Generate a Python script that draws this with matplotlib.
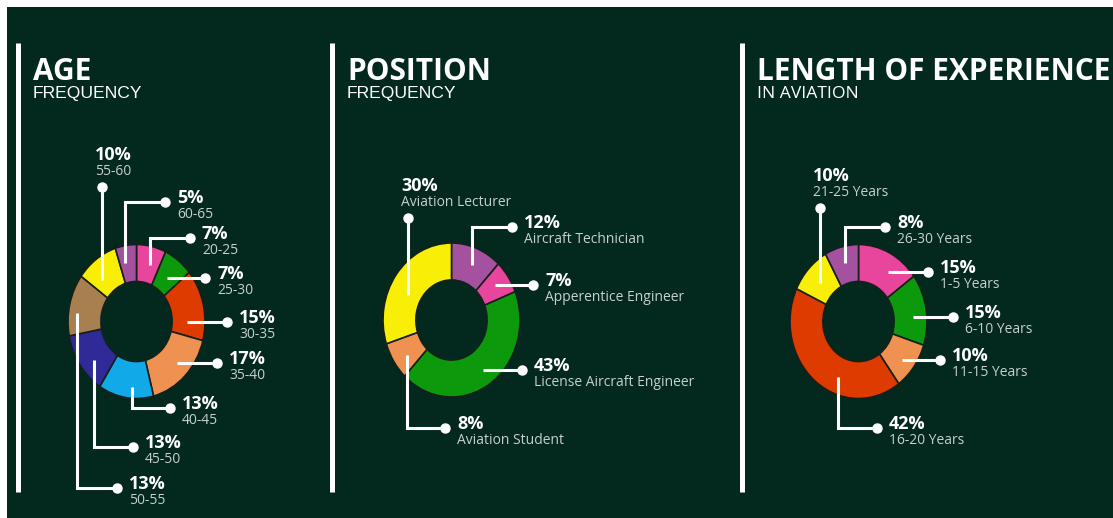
import matplotlib
matplotlib.use("Agg")
import matplotlib.pyplot as plt
from matplotlib.patches import Rectangle

W, H = 1113, 518
BG = "#03291f"

# ---- data ----
age_labels = ["20-25", "25-30", "30-35", "35-40", "40-45", "45-50", "50-55", "55-60", "60-65"]
age_values = [7, 7, 15, 17, 13, 13, 13, 10, 5]
age_colors = ["#e8459c", "#0c990c", "#de3b00", "#ef9151", "#12a9e9", "#302a98", "#a8804f", "#f8ee06", "#a452a0"]

pos_labels = ["Aircraft Technician", "Apperentice Engineer", "License Aircraft Engineer",
              "Aviation Student", "Aviation Lecturer"]
pos_values = [12, 7, 43, 8, 30]
pos_colors = ["#a452a0", "#e8459c", "#0c990c", "#ef9151", "#f8ee06"]

exp_labels = ["1-5 Years", "6-10 Years", "11-15 Years", "16-20 Years", "21-25 Years", "26-30 Years"]
exp_values = [15, 15, 10, 42, 10, 8]
exp_colors = ["#e8459c", "#0c990c", "#ef9151", "#de3b00", "#f8ee06", "#a452a0"]

# ---- layout (pixel positions of leader start and dot) ----
age_leaders = [(150, 265, 190, 238), (167, 278, 205, 278), (187, 322, 227, 322),
               (177, 363, 217, 363), (132, 387, 170, 408), (94, 360, 133, 447),
               (77, 313, 117, 488), (102, 280, 102, 187), (125, 263, 165, 202)]
pos_leaders = [(472, 265, 512, 227), (495, 285, 533, 285), (483, 370, 522, 370),
               (407, 355, 445, 428), (408, 295, 408, 218)]
exp_leaders = [(888, 272, 928, 272), (913, 317, 953, 317), (902, 360, 940, 360),
               (838, 377, 877, 428), (820, 283, 820, 208), (845, 263, 885, 227)]

fig = plt.figure(figsize=(W / 100, H / 100), dpi=100)
fig.patch.set_facecolor("white")
fig.add_artist(Rectangle((7 / W, 0), 1 - 7 / W, 1 - 7 / H, transform=fig.transFigure,
                         facecolor=BG, edgecolor="none", zorder=-1))


def donut(cx, cy, values, colors):
    rx, ry = 68.5, 77
    ax = fig.add_axes([(cx - rx) / W, (H - cy - ry) / H, 2 * rx / W, 2 * ry / H], zorder=1)
    ax.pie(values, colors=colors, startangle=90, counterclock=False, radius=1,
           wedgeprops=dict(width=0.48, edgecolor="#14201b", linewidth=1.2))
    ax.set_aspect("auto")
    ax.set_xlim(-1, 1)
    ax.set_ylim(-1, 1)
    ax.axis("off")


donut(136.5, 321.5, age_values, age_colors)
donut(451.5, 320, pos_values, pos_colors)
donut(858.5, 321.5, exp_values, exp_colors)

ov = fig.add_axes([0, 0, 1, 1], zorder=5)
ov.set_xlim(0, W)
ov.set_ylim(H, 0)
ov.axis("off")

# panel separators
for x in [18, 332, 742]:
    ov.plot([x, x], [43, 492], color="white", lw=3.6, solid_capstyle="butt")

# titles
titles = [(33, "AGE", "FREQUENCY", "Liberation Sans"),
          (347, "POSITION", "FREQUENCY", "Liberation Sans"),
          (757, "LENGTH OF EXPERIENCE", "IN AVIATION", "Open Sans")]
for x, t, s, fam in titles:
    ov.text(x, 80, t, color="white", fontsize=21.5, fontweight="bold",
            family="Open Sans", va="baseline")
    ov.text(x, 98, s, color="white", fontsize=12.6, family=fam, va="baseline")


def leaders(values, labels, lay):
    for v, lab, (x0, y0, x1, y1) in zip(values, labels, lay):
        ov.plot([x0, x0, x1], [y0, y1, y1], color="white", lw=2.2,
                solid_joinstyle="miter", solid_capstyle="butt")
        ov.plot([x1], [y1], "o", color="white", ms=6.5)
        if x0 == x1:
            tx, ty = x1 - 7, y1 - 27
        else:
            tx, ty = x1 + 12, y1 + 1
        ov.text(tx, ty, f"{v}%", color="white", fontsize=13, fontweight="bold",
                family="Open Sans", va="baseline")
        ov.text(tx, ty + 15, lab, color="#c6d0cc", fontsize=10, family="Open Sans",
                va="baseline")


leaders(age_values, age_labels, age_leaders)
leaders(pos_values, pos_labels, pos_leaders)
leaders(exp_values, exp_labels, exp_leaders)

fig.savefig("out.png", dpi=100, facecolor=fig.get_facecolor())
